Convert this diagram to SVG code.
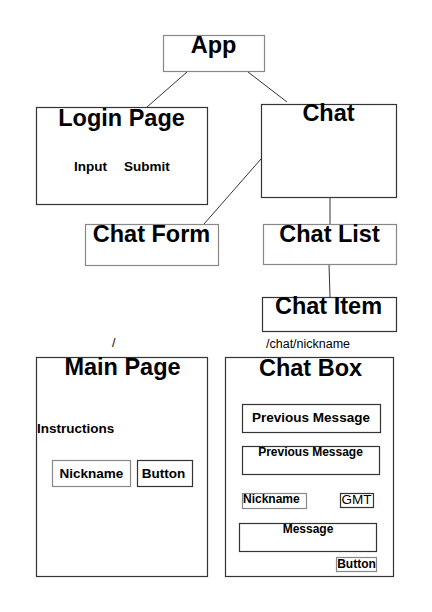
<svg xmlns="http://www.w3.org/2000/svg" width="432" height="612" viewBox="0 0 432 612">
<style>
  rect { fill: #fff; stroke: #333; stroke-width: 1.2; }
  rect.g { stroke: #888; }
  .conn line { stroke: #333; stroke-width: 1; }
  text { font-family: "Liberation Sans", Arial, sans-serif; font-weight: bold; fill: #000; }
  .h { font-size: 23.5px; text-anchor: middle; }
  .m { font-size: 13.5px; }
  .s { font-size: 12px; }
  .n { font-weight: normal; font-size: 12.5px; }
  .c { text-anchor: middle; }
</style>
<rect x="0" y="0" width="432" height="612" style="fill:#fff;stroke:none"/>
<g class="conn">
  <line x1="187" y1="72" x2="147" y2="107"/>
  <line x1="248" y1="72" x2="287" y2="102"/>
  <line x1="261" y1="159" x2="204" y2="224"/>
  <line x1="330" y1="197" x2="330" y2="224"/>
  <line x1="329" y1="264" x2="330" y2="297"/>
</g>
<g id="app">
  <rect class="g" x="163.5" y="35.5" width="101" height="36"/>
  <text class="h" x="213.5" y="53">App</text>
</g>
<g id="login-page">
  <rect x="36.5" y="107.5" width="171" height="97"/>
  <text class="h" x="121.5" y="126">Login Page</text>
  <text class="m" x="74" y="171">Input</text>
  <text class="m" x="124" y="171">Submit</text>
</g>
<g id="chat">
  <rect x="261.5" y="104.5" width="135" height="93"/>
  <text class="h" x="328.5" y="121">Chat</text>
</g>
<g id="chat-form">
  <rect class="g" x="85.5" y="224.5" width="133" height="41"/>
  <text class="h" x="151.5" y="242">Chat Form</text>
</g>
<g id="chat-list">
  <rect class="g" x="263.5" y="224.5" width="133" height="40"/>
  <text class="h" x="329.5" y="242">Chat List</text>
</g>
<g id="chat-item">
  <rect x="262.5" y="297.5" width="134" height="34"/>
  <text class="h" x="328.5" y="314">Chat Item</text>
</g>
<text class="n" x="112" y="347">/</text>
<text class="n" x="266" y="348">/chat/nickname</text>
<g id="main-page">
  <rect x="36.5" y="357.5" width="171" height="219"/>
  <text class="h" x="122.5" y="375">Main Page</text>
  <text class="m" x="37" y="433">Instructions</text>
  <g id="nickname-input">
    <rect class="g" x="52.5" y="460.5" width="78" height="26"/>
    <text class="m c" x="91.5" y="478">Nickname</text>
  </g>
  <g id="main-button">
    <rect x="137.5" y="460.5" width="55" height="26"/>
    <text class="m c" x="163.5" y="478">Button</text>
  </g>
</g>
<g id="chat-box">
  <rect x="225.5" y="357.5" width="168" height="219"/>
  <text class="h" x="310.5" y="376">Chat Box</text>
  <g id="prev-msg-1">
    <rect x="242.5" y="404.5" width="138" height="28"/>
    <text class="m c" x="311" y="422">Previous Message</text>
  </g>
  <g id="prev-msg-2">
    <rect x="242.5" y="446.5" width="137" height="28"/>
    <text class="s c" x="310.5" y="456">Previous Message</text>
  </g>
  <g id="nickname-label">
    <rect class="g" x="242.5" y="493.5" width="64" height="15"/>
    <text class="s" x="243" y="502.5">Nickname</text>
  </g>
  <g id="gmt">
    <rect x="340.5" y="493.5" width="33" height="14"/>
    <text x="356.5" y="503.5" style="font-weight:normal;font-size:13.5px;text-anchor:middle">GMT</text>
  </g>
  <g id="message">
    <rect x="239.5" y="523.5" width="137" height="28"/>
    <text class="s c" x="308" y="533">Message</text>
  </g>
  <g id="send-button">
    <rect class="g" x="336.5" y="557.5" width="40" height="14"/>
    <text class="s c" x="356.5" y="568">Button</text>
  </g>
</g>
</svg>
